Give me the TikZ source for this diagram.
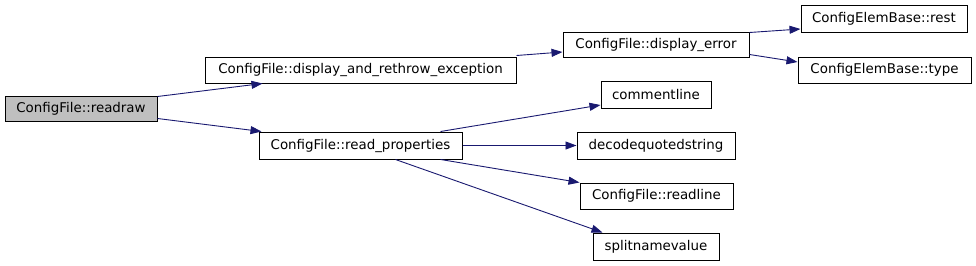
\documentclass[tikz,border=0pt]{standalone}
\usepackage{fontspec}
\setmainfont{DejaVu Sans}
\usetikzlibrary{arrows.meta}
\definecolor{edgeblue}{HTML}{191970}
\definecolor{hlgray}{HTML}{BFBFBF}
\tikzset{
  box/.style={draw=black, line width=1pt, fill=white, inner sep=0pt, minimum height=26,
    font=\fontsize{13.4}{15}\selectfont, anchor=center},
  callee/.style={box},
  current/.style={box, fill=hlgray},
  edge/.style={draw=edgeblue, line width=0.9pt, -{Triangle[length=11pt,width=8pt]}}
}
\begin{document}
\begin{tikzpicture}[x=1pt,y=-1pt]
\useasboundingbox (0,0) rectangle (976,265);
\node[current, minimum width=152, minimum height=25] (readraw) at (81,108.5) {ConfigFile::readraw};
\node[callee, minimum width=311] (dare) at (360.5,70) {ConfigFile::display\_and\_rethrow\_exception};
\node[callee, minimum width=203, minimum height=27] (readprop) at (360.5,145.5) {ConfigFile::read\_properties};
\node[callee, minimum width=186, minimum height=25] (derr) at (656,44.5) {ConfigFile::display\_error};
\node[callee, minimum width=166, minimum height=27] (rest) at (884,18.5) {ConfigElemBase::rest};
\node[callee, minimum width=173] (type) at (884.5,70) {ConfigElemBase::type};
\node[callee, minimum width=110, minimum height=27] (comment) at (656,94.5) {commentline};
\node[callee, minimum width=158, minimum height=27] (decode) at (656,145.5) {decodequotedstring};
\node[callee, minimum width=153] (readline) at (656.5,196) {ConfigFile::readline};
\node[callee, minimum width=126, minimum height=27] (split) at (656,246.5) {splitnamevalue};

\draw[edge] ([yshift=-1]readraw.north east) -- ([xshift=58]dare.south west);
\draw[edge] ([yshift=3]readraw.south east) -- ([xshift=3]readprop.north west);
\draw[edge] ([yshift=1]dare.north east) -- ([yshift=-7.5]derr.west);
\draw[edge] ([yshift=-1]derr.north east) -- ([yshift=-10.5]rest.west);
\draw[edge] ([yshift=3]derr.south east) -- ([yshift=8]type.west);
\draw[edge] ([xshift=-22]readprop.north east) -- ([yshift=-10.5]comment.west);
\draw[edge] (readprop.east) -- (decode.west);
\draw[edge] ([xshift=-22]readprop.south east) -- (readline.north west);
\draw[edge] ([xshift=-67]readprop.south east) -- ([xshift=10]split.north west);
\end{tikzpicture}
\end{document}
